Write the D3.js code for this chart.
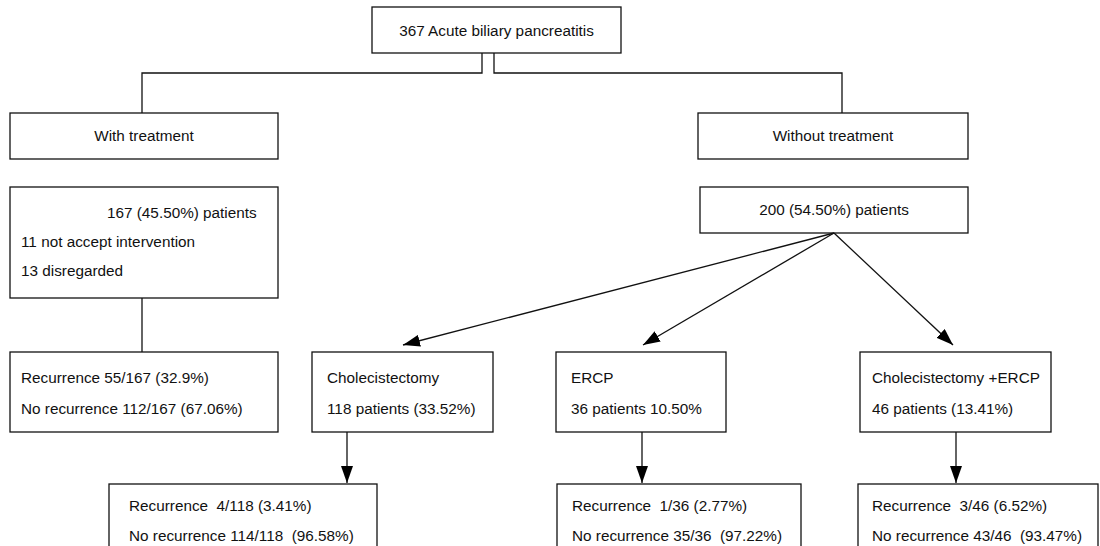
<!DOCTYPE html>
<html lang="en">
  <head>
    <meta charset="utf-8">
    <title>biliary pancreatitis flowchart</title>
    <style>
      body { margin: 0; background: #fff; }
      text { font-family: "Liberation Sans", Arial, sans-serif; font-size: 15.3px; fill: #111; }
    </style>
  </head>
  <body>
    <div id="chart"></div>
    <script src="https://d3js.org/d3.v7.min.js"></script>
    <script>

    // node ids and their text lines
    var nodeIds = ["root", "withT", "withoutT", "treated", "untreated",
                   "recWith", "chole", "ercp", "both", "recChole", "recErcp", "recBoth"];
    var nodeLines = [
      ["367 Acute biliary pancreatitis"],
      ["With treatment"],
      ["Without treatment"],
      ["167 (45.50%) patients", "11 not accept intervention", "13 disregarded"],
      ["200 (54.50%) patients"],
      ["Recurrence 55/167 (32.9%)", "No recurrence 112/167 (67.06%)"],
      ["Cholecistectomy", "118 patients (33.52%)"],
      ["ERCP", "36 patients 10.50%"],
      ["Cholecistectomy +ERCP", "46 patients (13.41%)"],
      ["Recurrence  4/118 (3.41%)", "No recurrence 114/118  (96.58%)"],
      ["Recurrence  1/36 (2.77%)", "No recurrence 35/36  (97.22%)"],
      ["Recurrence  3/46 (6.52%)", "No recurrence 43/46  (93.47%)"]
    ];

    // links: from -> to
    var linkFrom = ["root", "root", "treated", "untreated", "untreated", "untreated", "chole", "ercp", "both"];
    var linkTo   = ["withT", "withoutT", "recWith", "chole", "ercp", "both", "recChole", "recErcp", "recBoth"];

    // layout (box corners, text anchor) kept apart from the content
    var layout = {
      root:      {x0: 372, y0: 7,   x1: 621,  y1: 53,  center: true, ty: [31]},
      withT:     {x0: 10,  y0: 113, x1: 278,  y1: 159, center: true, ty: [136]},
      withoutT:  {x0: 698, y0: 113, x1: 968,  y1: 159, center: true, ty: [136]},
      treated:   {x0: 10,  y0: 187, x1: 278,  y1: 298, tx: [107, 21, 21], ty: [213, 242, 271]},
      untreated: {x0: 700, y0: 187, x1: 968,  y1: 233, center: true, ty: [210]},
      recWith:   {x0: 10,  y0: 352, x1: 278,  y1: 432, tx: [21, 21],   ty: [378, 409]},
      chole:     {x0: 312, y0: 352, x1: 493,  y1: 432, tx: [327, 327], ty: [378, 409]},
      ercp:      {x0: 556, y0: 352, x1: 726,  y1: 432, tx: [571, 571], ty: [378, 409]},
      both:      {x0: 860, y0: 352, x1: 1051, y1: 432, tx: [872, 872], ty: [378, 409]},
      recChole:  {x0: 109, y0: 484, x1: 377,  y1: 570, tx: [129, 129], ty: [506, 536]},
      recErcp:   {x0: 557, y0: 484, x1: 801,  y1: 570, tx: [572, 572], ty: [506, 536]},
      recBoth:   {x0: 858, y0: 484, x1: 1098, y1: 570, tx: [872, 872], ty: [506, 536]}
    };

    // connector geometry per link
    var linkPaths = [
      {d: [[482, 53], [482, 73], [142, 73], [142, 113]], arrow: false},
      {d: [[494, 53], [494, 73], [842, 73], [842, 113]], arrow: false},
      {d: [[142, 298], [142, 352]], arrow: false},
      {d: [[834, 233], [403, 345]], arrow: true},
      {d: [[834, 233], [643, 345]], arrow: true},
      {d: [[834, 233], [953, 345]], arrow: true},
      {d: [[347, 432], [347, 483]], arrow: true},
      {d: [[642, 432], [642, 483]], arrow: true},
      {d: [[956, 432], [956, 483]], arrow: true}
    ];

    var width = 1100, height = 546;

    var svg = d3.select("#chart")
      .append("svg")
        .attr("width", width)
        .attr("height", height);

    svg.append("defs")
      .append("marker")
        .attr("id", "arrow")
        .attr("viewBox", "0 0 17 12")
        .attr("refX", 17)
        .attr("refY", 6)
        .attr("markerWidth", 17)
        .attr("markerHeight", 12)
        .attr("markerUnits", "userSpaceOnUse")
        .attr("orient", "auto")
      .append("path")
        .attr("d", "M0,0 L17,6 L0,12 Z")
        .attr("fill", "#000");

    var nodes = nodeIds.map(function(id, i) {
      return Object.assign({id: id, lines: nodeLines[i]}, layout[id]);
    });

    // boxes
    svg.selectAll("rect.box")
      .data(nodes)
      .enter()
      .append("rect")
        .attr("class", "box")
        .attr("x", function(d) { return d.x0; })
        .attr("y", function(d) { return d.y0; })
        .attr("width", function(d) { return d.x1 - d.x0; })
        .attr("height", function(d) { return d.y1 - d.y0; })
        .attr("fill", "#fff")
        .attr("stroke", "#111")
        .attr("stroke-width", 1.3);

    // text lines
    var labels = [];
    nodes.forEach(function(n) {
      n.lines.forEach(function(t, j) {
        labels.push({
          text: t,
          x: n.center ? (n.x0 + n.x1) / 2 : n.tx[j],
          y: n.ty[j],
          anchor: n.center ? "middle" : "start"
        });
      });
    });

    svg.selectAll("text.lbl")
      .data(labels)
      .enter()
      .append("text")
        .attr("class", "lbl")
        .attr("x", function(d) { return d.x; })
        .attr("y", function(d) { return d.y; })
        .attr("dy", "0.35em")
        .attr("text-anchor", function(d) { return d.anchor; })
        .style("white-space", "pre")
        .text(function(d) { return d.text; });

    // connectors
    var line = d3.line();
    svg.selectAll("path.link")
      .data(linkPaths.map(function(p, i) { return Object.assign({from: linkFrom[i], to: linkTo[i]}, p); }))
      .enter()
      .append("path")
        .attr("class", "link")
        .attr("d", function(d) { return line(d.d); })
        .attr("fill", "none")
        .attr("stroke", "#111")
        .attr("stroke-width", 1.3)
        .attr("marker-end", function(d) { return d.arrow ? "url(#arrow)" : null; });

    </script>
  </body>
</html>
